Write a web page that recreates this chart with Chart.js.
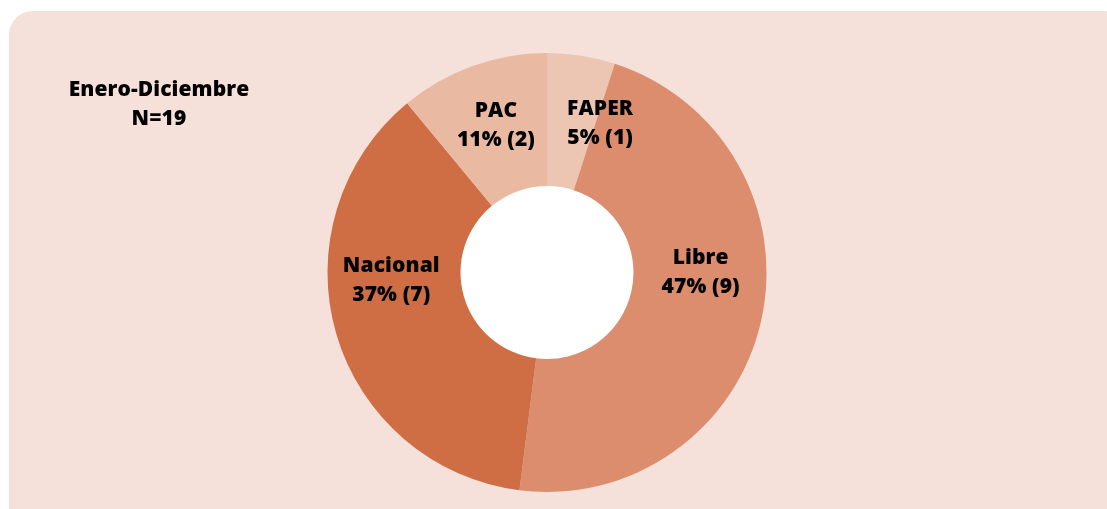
<!DOCTYPE html>
<html>
<head>
<meta charset="utf-8">
<script src="https://cdn.jsdelivr.net/npm/chart.js@4.4.1/dist/chart.umd.min.js"></script>
<style>
  html, body { margin: 0; padding: 0; background: #ffffff; overflow: hidden; }
  #panel {
    position: absolute; left: 9px; top: 11px; width: 1120px; height: 520px;
    background: #f5e1da; border-radius: 24px;
  }
  #wrap { position: absolute; left: 0; top: 0; width: 1107px; height: 509px; }
  #title {
    position: absolute; left: 59px; top: 74px; width: 200px; text-align: center;
    font-family: "Open Sans", "Noto Sans", sans-serif; font-weight: 800; font-size: 21px;
    line-height: 29px; color: #000000; letter-spacing: 0.1px;
  }
</style>
</head>
<body>
<div id="panel"></div>
<div id="wrap"><canvas id="donut"></canvas></div>
<div id="title">Enero-Diciembre<br>N=19</div>
<script>
// Distribution data (slices are sized by the rounded percentages)
const categories = ["FAPER", "Libre", "Nacional", "PAC"];
const percents = [5, 47, 37, 11];
const counts = [1, 9, 7, 2];
const sliceColors = ["#edc5b3", "#db8d6d", "#cf6e45", "#e9b9a2"];

// where each label sits: angle (deg, clockwise from top) and share of outer radius
const labelPlacement = [
  { angle: 19.5, r: 0.725 },
  { angle: 89.5, r: 0.7 },
  { angle: 267.5, r: 0.71 },
  { angle: -19, r: 0.715 },
];

// white hole in the middle of the ring
const whiteHole = {
  id: "whiteHole",
  beforeDatasetsDraw(chart) {
    const arc = chart.getDatasetMeta(0).data[0];
    if (!arc) return;
    const ctx = chart.ctx;
    ctx.save();
    ctx.fillStyle = "#ffffff";
    ctx.beginPath();
    ctx.arc(arc.x, arc.y, arc.innerRadius + 0.5, 0, Math.PI * 2);
    ctx.fill();
    ctx.restore();
  },
};

const sliceLabels = {
  id: "sliceLabels",
  afterDatasetsDraw(chart) {
    const ctx = chart.ctx;
    const arcs = chart.getDatasetMeta(0).data;
    ctx.save();
    ctx.fillStyle = "#000000";
    ctx.font = "800 21px 'Open Sans', 'Noto Sans', sans-serif";
    ctx.letterSpacing = "0.1px";
    ctx.textAlign = "center";
    ctx.textBaseline = "middle";
    arcs.forEach((arc, i) => {
      const p = labelPlacement[i];
      const a = (p.angle * Math.PI) / 180;
      const x = arc.x + Math.sin(a) * arc.outerRadius * p.r;
      const y = arc.y - Math.cos(a) * arc.outerRadius * p.r + 1;
      ctx.fillText(categories[i], x, y - 14.5);
      ctx.fillText(`${percents[i]}% (${counts[i]})`, x, y + 14.5);
    });
    ctx.restore();
  },
};

const ctx = document.getElementById("donut").getContext("2d");

new Chart(ctx, {
  type: "doughnut",
  data: {
    labels: categories,
    datasets: [
      {
        data: percents,
        backgroundColor: sliceColors,
        borderWidth: 0,
      },
    ],
  },
  options: {
    responsive: true,
    maintainAspectRatio: false,
    animation: false,
    cutout: "39.4%",
    layout: {
      padding: { left: 327.5, right: 340.5, top: 53, bottom: 17 },
    },
    plugins: {
      legend: { display: false },
      tooltip: { enabled: false },
    },
  },
  plugins: [whiteHole, sliceLabels],
});
</script>
</body>
</html>
